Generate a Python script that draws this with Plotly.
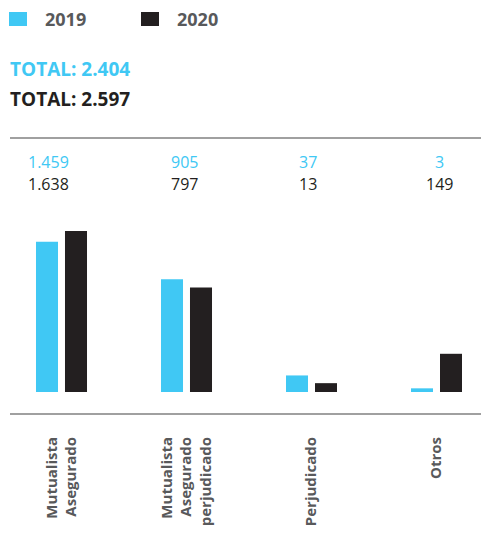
import plotly.graph_objects as go

# ---- data ----
categories = ["Mutualista<br>Asegurado", "Mutualista<br>Asegurado<br>perjudicado", "Perjudicado", "Otros"]
series_names = ["2019", "2020"]
values_2019 = [1459, 905, 37, 3]
values_2020 = [1638, 797, 13, 149]

# ---- style ----
BLUE = "#40C8F4"
BLACK = "#231F20"
GRAY_TEXT = "#58595B"
RULE = "#A0A0A0"
FONT = "Open Sans"
DISPLAY_EXPONENT = 0.6  # power scale used by the infographic for bar heights
VALUE_LABEL_XSHIFT = [-13, -2, -4, 3]  # px nudges of the value labels, as in the source layout

# figure geometry (figure px; the page body adds an 8px margin)
FIG_W, FIG_H = 481, 525
M_L, M_T, M_B = 2, 131, 120
PLOT_W = FIG_W - M_L
PLOT_H = FIG_H - M_T - M_B


def px_x(fx):
    return (fx - M_L) / PLOT_W


def px_y(fy):
    return (FIG_H - M_B - fy) / PLOT_H


def fmt(n):
    return f"{n:,}".replace(",", ".")


def scaled(vals):
    return [v ** DISPLAY_EXPONENT for v in vals]


colors = [BLUE, BLACK]
fig = go.Figure()
for name, vals, col in zip(series_names, [values_2019, values_2020], colors):
    fig.add_bar(
        x=categories,
        y=scaled(vals),
        name=name,
        marker=dict(color=col, line=dict(width=0)),
        customdata=vals,
        hovertemplate="%{customdata}<extra>" + name + "</extra>",
    )

ymax = max(scaled(values_2019 + values_2020))
y_range = [-ymax * 21 / 161, ymax * 253 / 161]

annotations = []
shapes = []
for i, cat in enumerate(categories):
    annotations.append(dict(x=cat, y=0.916, xref="x", yref="paper", yanchor="middle",
                            xshift=VALUE_LABEL_XSHIFT[i],
                            text=fmt(values_2019[i]), showarrow=False,
                            font=dict(family=FONT, size=16, color=BLUE, weight=500)))
    annotations.append(dict(x=cat, y=0.836, xref="x", yref="paper", yanchor="middle",
                            xshift=VALUE_LABEL_XSHIFT[i],
                            text=fmt(values_2020[i]), showarrow=False,
                            font=dict(family=FONT, size=16, color=BLACK, weight=500)))

for tot_vals, col, fy in [(values_2019, BLUE, 61), (values_2020, BLACK, 91)]:
    annotations.append(dict(x=px_x(0), y=px_y(fy), xref="paper", yref="paper",
                            xanchor="left", yanchor="middle",
                            text="TOTAL: " + fmt(sum(tot_vals)), showarrow=False,
                            font=dict(family=FONT, size=19, color=col, weight=700)))

# legend (key squares + year labels)
for k, (name, col) in enumerate(zip(series_names, colors)):
    x0 = 1 + 132 * k
    shapes.append(dict(type="rect", xref="paper", yref="paper",
                       x0=px_x(x0), x1=px_x(x0 + 18), y0=px_y(18), y1=px_y(4),
                       fillcolor=col, line=dict(width=0)))
    annotations.append(dict(x=px_x(x0 + 34), y=px_y(11), xref="paper", yref="paper",
                            xanchor="left", yanchor="middle", text=name, showarrow=False,
                            font=dict(family=FONT, size=18, color=GRAY_TEXT, weight=700)))

fig.update_layout(
    width=FIG_W, height=FIG_H,
    margin=dict(l=M_L, r=0, t=M_T, b=M_B, pad=0),
    paper_bgcolor="white", plot_bgcolor="white",
    barmode="group", bargap=0.536, bargroupgap=0.241,
    font=dict(family=FONT, color=GRAY_TEXT),
    showlegend=False,
    xaxis=dict(type="category", range=[-0.412, 3.42], showline=True, linecolor=RULE, linewidth=2,
               mirror=True, ticks="", tickangle=-90, showgrid=False, zeroline=False,
               ticklabelstandoff=16,
               tickfont=dict(family=FONT, size=15, color=GRAY_TEXT, weight=700)),
    yaxis=dict(visible=False, range=y_range, showgrid=False, zeroline=False),
    annotations=annotations,
    shapes=shapes,
)

fig.write_html("out.html")
